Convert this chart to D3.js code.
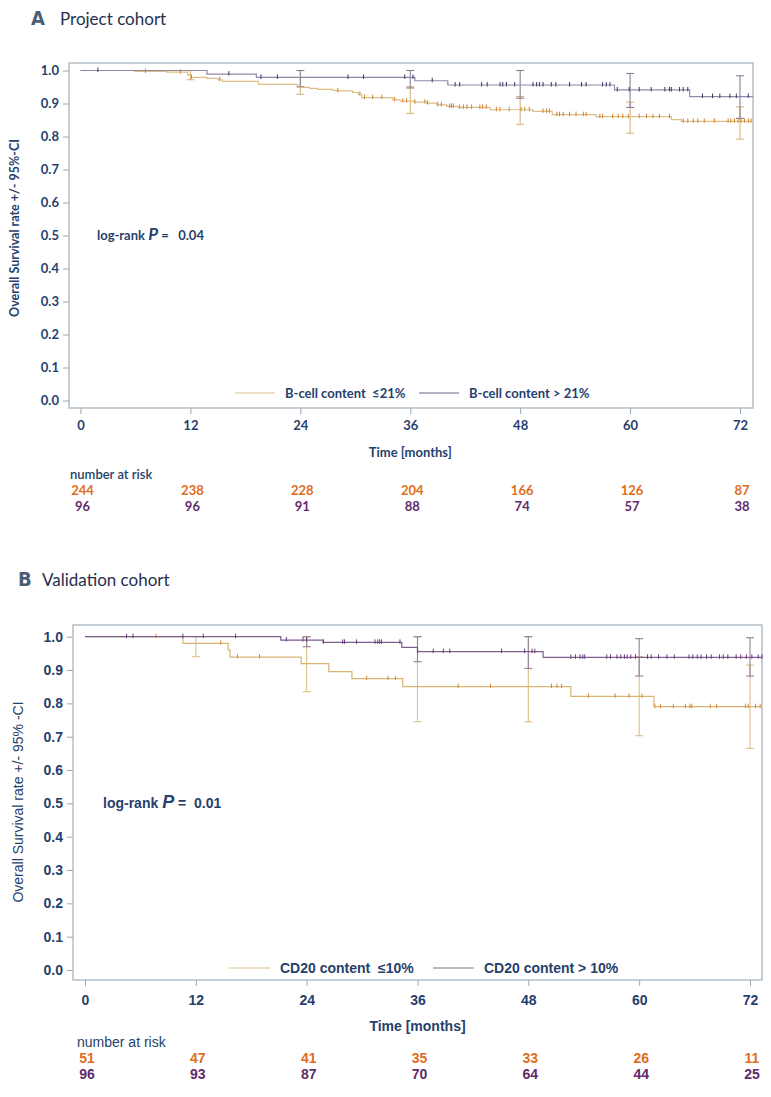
<!DOCTYPE html>
<html>
<head>
<meta charset="utf-8">
<script src="https://cdn.jsdelivr.net/npm/d3@7"></script>
<style>
body { margin: 0; background: #fff; }
</style>
</head>
<body>
<div id="chart"></div>
<script>
// ---- shared axis values ----
var months = [0, 12, 24, 36, 48, 60, 72];
var yTicks = [0, 0.1, 0.2, 0.3, 0.4, 0.5, 0.6, 0.7, 0.8, 0.9, 1.0];

// ---- panel A: project cohort ----
var aLowTimes = [0, 5.9, 9.4, 11.7, 12.1, 13.8, 15.0, 15.5, 19.4, 23.7, 25.0, 25.9, 27.5, 27.9, 29.7, 30.3, 30.7, 34.1, 34.9, 36.5, 37.8, 38.9, 40.0, 41.2, 44.7, 49.4, 51.5, 56.3, 64.5, 65.6];
var aLowSurv  = [1.0, 0.997, 0.995, 0.986, 0.979, 0.976, 0.972, 0.967, 0.958, 0.949, 0.946, 0.943, 0.940, 0.938, 0.934, 0.928, 0.918, 0.911, 0.907, 0.904, 0.901, 0.896, 0.891, 0.888, 0.881, 0.876, 0.866, 0.860, 0.851, 0.846];
var aLowCensor = [7.1, 10.9, 12.1, 15.2, 28.1, 30.5, 31.0, 31.9, 32.9, 34.3, 35.2, 35.6, 36.5, 37.6, 37.9, 39.0, 39.4, 40.3, 40.5, 40.7, 41.4, 41.8, 42.2, 42.7, 43.6, 43.9, 44.3, 45.4, 45.8, 46.8, 48.1, 48.5, 49.0, 50.5, 50.9, 51.2, 52.0, 52.3, 52.7, 53.4, 54.1, 54.9, 55.2, 56.7, 57.0, 58.1, 58.7, 59.2, 59.8, 61.0, 61.8, 62.5, 63.2, 64.3, 65.8, 66.3, 66.9, 67.4, 68.1, 69.2, 70.7, 71.0, 71.4, 71.8, 72.1, 72.5, 72.9, 73.2];
var aHighTimes = [0, 13.8, 19.2, 36.5, 40.1, 58.3, 66.5];
var aHighSurv  = [1.0, 0.989, 0.979, 0.969, 0.956, 0.941, 0.921];
var aHighCensor = [1.9, 16.2, 19.7, 21.5, 29.2, 30.9, 35.4, 36.3, 38.4, 40.9, 41.4, 43.8, 44.4, 45.8, 46.1, 46.5, 47.4, 49.4, 49.8, 50.1, 50.5, 51.4, 51.9, 53.4, 54.7, 55.2, 57.0, 57.4, 57.8, 58.6, 59.9, 61.0, 62.3, 63.8, 64.3, 64.5, 65.4, 65.8, 66.3, 67.9, 69.0, 69.8, 70.9, 71.6, 72.9];
var aCiTimes = [12, 24, 36, 48, 60, 72];
var aLowCiLo  = [0.972, 0.928, 0.870, 0.837, 0.810, 0.792];
var aLowCiHi  = [1.0, 0.979, 0.951, 0.921, 0.904, 0.890];
var aHighCiLo = [null, 0.951, 0.947, 0.916, 0.888, 0.855];
var aHighCiHi = [null, 1.0, 1.0, 1.0, 0.991, 0.984];
var aRiskLow  = [244, 238, 228, 204, 166, 126, 87];
var aRiskHigh = [96, 96, 91, 88, 74, 57, 38];

// ---- panel B: validation cohort ----
var bLowTimes = [0, 10.6, 15.5, 15.7, 23.4, 26.4, 28.9, 34.4, 52.6, 61.6];
var bLowSurv  = [1.0, 0.980, 0.960, 0.939, 0.919, 0.895, 0.874, 0.850, 0.821, 0.790];
var bLowCensor = [7.7, 14.7, 16.5, 18.9, 30.5, 32.8, 33.6, 40.4, 43.9, 50.5, 51.1, 51.6, 54.5, 57.4, 58.9, 60.3, 61.7, 62.3, 63.7, 65.0, 65.5, 65.7, 67.7, 68.4, 71.5, 71.8, 72.6, 73.1];
var bHighTimes = [0, 21.2, 25.8, 34.3, 36.0, 49.6];
var bHighSurv  = [1.0, 0.990, 0.983, 0.968, 0.955, 0.938];
var bHighCensor = [4.5, 5.2, 10.6, 12.8, 16.3, 21.8, 23.6, 24.0, 25.8, 27.9, 28.1, 29.4, 31.4, 31.7, 31.9, 32.1, 34.1, 36.0, 37.7, 38.8, 39.5, 45.1, 47.6, 48.4, 48.7, 52.6, 53.1, 53.6, 53.9, 54.1, 56.5, 56.9, 57.6, 58.0, 58.4, 58.7, 59.1, 59.6, 60.9, 61.3, 62.1, 63.0, 63.8, 65.4, 65.8, 66.3, 66.7, 67.3, 67.8, 68.7, 69.1, 69.6, 70.5, 71.0, 71.6, 72.2, 72.9, 73.3];
var bCiTimes = [12, 24, 36, 48, 60, 72];
var bLowCiLo  = [0.940, 0.835, 0.745, 0.745, 0.703, 0.665];
var bLowCiHi  = [1.0, 1.0, 1.0, 1.0, 0.940, 0.915];
var bHighCiLo = [null, 0.970, 0.925, 0.905, 0.882, 0.882];
var bHighCiHi = [null, 1.0, 1.0, 1.0, 0.994, 0.997];
var bRiskLow  = [51, 47, 41, 35, 33, 26, 11];
var bRiskHigh = [96, 93, 87, 70, 64, 44, 25];

var navy = "#263f6c";
var orangeTxt = "#e06c1e";
var purpleTxt = "#5f2b6c";
var nb = "\u00a0";

var svg = d3.select("#chart").append("svg")
    .attr("width", 771)
    .attr("height", 1097);

function drawPanel(p) {
    var g = svg.append("g");

    function txt(sel) {
        return sel.attr("font-family", p.font).attr("fill", navy);
    }

    var x = d3.scaleLinear().domain([0, 72]).range([p.x0, p.x72]);
    var y = d3.scaleLinear().domain([0, 1]).range([p.y0, p.y1]);
    var tEnd = x.invert(p.right);

    // header
    g.append("text").attr("x", p.letterX).attr("y", p.headY)
        .attr("font-family", "'DejaVu Sans Condensed', sans-serif")
        .attr("font-weight", "bold").attr("font-size", 20).attr("fill", "#4b5d74")
        .text(p.letter);
    g.append("text").attr("x", p.titleX).attr("y", p.headY)
        .attr("font-family", "Lato, sans-serif")
        .attr("font-size", 17).attr("fill", "#26304e")
        .text(p.title);

    // frame
    g.append("rect")
        .attr("x", p.left).attr("y", p.top)
        .attr("width", p.right - p.left).attr("height", p.bottom - p.top)
        .attr("fill", "none").attr("stroke", "#aab6c0").attr("stroke-width", 1.3);

    // y axis
    var ya = g.append("g").attr("transform", "translate(" + p.left + ",0)")
        .call(d3.axisLeft(y).tickValues(yTicks).tickFormat(d3.format(".1f")).tickSize(6).tickPadding(4));
    ya.select(".domain").remove();
    ya.selectAll("line").attr("stroke", "#9aa8b4");
    txt(ya.selectAll("text")).attr("font-size", p.fs).attr("font-weight", "bold");

    // x axis
    var xa = g.append("g").attr("transform", "translate(0," + p.bottom + ")")
        .call(d3.axisBottom(x).tickValues(months).tickSize(6).tickPadding(p.xPad));
    xa.select(".domain").remove();
    xa.selectAll("line").attr("stroke", "#9aa8b4");
    txt(xa.selectAll("text")).attr("font-size", p.fs).attr("font-weight", "bold");

    // axis titles
    txt(g.append("text"))
        .attr("transform", "translate(" + p.yTitleX + "," + p.yTitleY + ") rotate(-90)")
        .attr("text-anchor", "middle")
        .attr("font-size", p.yTitleFs).attr("font-weight", p.yTitleW)
        .text(p.yTitle);
    txt(g.append("text")).attr("x", (p.x0 + p.x72) / 2).attr("y", p.xTitleY)
        .attr("text-anchor", "middle")
        .attr("font-size", p.fs).attr("font-weight", "bold")
        .text("Time [months]");

    // log-rank
    var lr = txt(g.append("text")).attr("x", p.lrX).attr("y", p.lrY)
        .attr("font-size", p.fs).attr("font-weight", "bold");
    lr.append("tspan").text("log-rank ");
    lr.append("tspan").attr("font-style", "italic").attr("font-size", p.fs + 4).text("P");
    lr.append("tspan").text(p.lrText);

    // CI bars
    p.groups.forEach(function(s) {
        var ci = s.ciTimes.map(function(t, i) { return { t: t, lo: s.ciLo[i], hi: s.ciHi[i] }; })
            .filter(function(d) { return d.lo != null; });
        var cg = g.append("g").attr("stroke", s.ciColor).attr("stroke-width", 1.1);
        cg.selectAll(".v").data(ci).enter().append("line")
            .attr("x1", function(d) { return x(d.t); }).attr("x2", function(d) { return x(d.t); })
            .attr("y1", function(d) { return y(d.lo); }).attr("y2", function(d) { return y(d.hi); });
        cg.selectAll(".lo").data(ci).enter().append("line")
            .attr("x1", function(d) { return x(d.t) - 4; }).attr("x2", function(d) { return x(d.t) + 4; })
            .attr("y1", function(d) { return y(d.lo); }).attr("y2", function(d) { return y(d.lo); });
        cg.selectAll(".hi").data(ci).enter().append("line")
            .attr("x1", function(d) { return x(d.t) - 4; }).attr("x2", function(d) { return x(d.t) + 4; })
            .attr("y1", function(d) { return y(d.hi); }).attr("y2", function(d) { return y(d.hi); });
    });

    // survival curves + censor marks
    p.groups.forEach(function(s) {
        var pts = s.times.map(function(t, i) { return [t, s.surv[i]]; });
        pts.push([tEnd, s.surv[s.surv.length - 1]]);
        g.append("path").datum(pts)
            .attr("fill", "none").attr("stroke", s.lineColor).attr("stroke-width", 1.2)
            .attr("d", d3.line().curve(d3.curveStepAfter)
                .x(function(d) { return x(d[0]); })
                .y(function(d) { return y(d[1]); }));

        function survAt(t) {
            return s.surv[d3.bisectRight(s.times, t) - 1];
        }
        g.append("g").selectAll("line").data(s.censor).enter().append("line")
            .attr("x1", function(d) { return x(d); }).attr("x2", function(d) { return x(d); })
            .attr("y1", function(d) { return y(survAt(d)) - 3; })
            .attr("y2", function(d) { return y(survAt(d)) + 1.5; })
            .attr("stroke", s.censorColor).attr("stroke-width", 1);
    });

    // legend
    p.groups.forEach(function(s, i) {
        var lx = p.legX[i];
        g.append("line").attr("x1", lx).attr("x2", lx + p.legLine)
            .attr("y1", p.legY).attr("y2", p.legY)
            .attr("stroke", s.legColor).attr("stroke-width", 1.6);
        txt(g.append("text")).attr("x", lx + p.legLine + 10).attr("y", p.legY + 4.5)
            .attr("font-size", p.fs).attr("font-weight", "bold")
            .text(s.label);
    });

    // number at risk
    txt(g.append("text")).attr("x", p.riskX).attr("y", p.riskY)
        .attr("font-size", p.fs).attr("font-weight", p.riskW)
        .text("number at risk");
    [[p.groups[0].risk, orangeTxt, p.riskY + p.riskGap], [p.groups[1].risk, purpleTxt, p.riskY + 2 * p.riskGap]]
        .forEach(function(r) {
            g.append("g").selectAll("text").data(r[0]).enter().append("text")
                .attr("x", function(d, i) { return x(months[i]) + 2; })
                .attr("y", r[2])
                .attr("text-anchor", "middle")
                .attr("font-family", p.font)
                .attr("fill", r[1]).attr("font-size", p.fs).attr("font-weight", "bold")
                .text(function(d) { return d; });
        });
}

drawPanel({
    font: "Lato, sans-serif", fs: 13,
    letter: "A", letterX: 31, title: "Project cohort", titleX: 60, headY: 25,
    left: 69, right: 753, top: 63, bottom: 408,
    x0: 80.5, x72: 740, y0: 400.5, y1: 70.5, xPad: 7,
    yTitle: "Overall Survival rate +/- 95%-CI", yTitleX: 19, yTitleY: 228, yTitleFs: 12.5, yTitleW: "bold",
    xTitleY: 457,
    lrX: 97, lrY: 240, lrText: nb + "=" + nb + nb + nb + "0.04",
    legX: [235, 419], legY: 393, legLine: 40,
    riskX: 70, riskY: 479, riskGap: 16, riskW: "600",
    groups: [
        { times: aLowTimes, surv: aLowSurv, censor: aLowCensor, ciTimes: aCiTimes, ciLo: aLowCiLo, ciHi: aLowCiHi,
          lineColor: "#dcbf86", censorColor: "#d3822e", ciColor: "#d6b678", legColor: "#ead7b4",
          label: "B-cell content" + nb + nb + "\u226421%", risk: aRiskLow },
        { times: aHighTimes, surv: aHighSurv, censor: aHighCensor, ciTimes: aCiTimes, ciLo: aHighCiLo, ciHi: aHighCiHi,
          lineColor: "#9188a8", censorColor: "#3e3564", ciColor: "#8a7c98", legColor: "#9a9aac",
          label: "B-cell content > 21%", risk: aRiskHigh }
    ]
});

drawPanel({
    font: "'Liberation Sans', Arimo, Arial, sans-serif", fs: 14,
    letter: "B", letterX: 18, title: "Validation cohort", titleX: 42, headY: 586,
    left: 73, right: 762, top: 625, bottom: 980,
    x0: 85, x72: 750, y0: 970, y1: 636.7, xPad: 9,
    yTitle: "Overall Survival rate +/- 95% -CI", yTitleX: 23, yTitleY: 802, yTitleFs: 14, yTitleW: "normal",
    xTitleY: 1031,
    lrX: 103, lrY: 808, lrText: nb + "=" + nb + nb + "0.01",
    legX: [229, 433], legY: 968, legLine: 41,
    riskX: 77, riskY: 1047, riskGap: 16, riskW: "normal",
    groups: [
        { times: bLowTimes, surv: bLowSurv, censor: bLowCensor, ciTimes: bCiTimes, ciLo: bLowCiLo, ciHi: bLowCiHi,
          lineColor: "#d7b474", censorColor: "#d88a36", ciColor: "#dcc088", legColor: "#ead7b4",
          label: "CD20 content" + nb + nb + "\u226410%", risk: bRiskLow },
        { times: bHighTimes, surv: bHighSurv, censor: bHighCensor, ciTimes: bCiTimes, ciLo: bHighCiLo, ciHi: bHighCiHi,
          lineColor: "#7c5f8c", censorColor: "#6a3a7c", ciColor: "#8f8099", legColor: "#a4a4b0",
          label: "CD20 content > 10%", risk: bRiskHigh }
    ]
});
</script>
</body>
</html>
